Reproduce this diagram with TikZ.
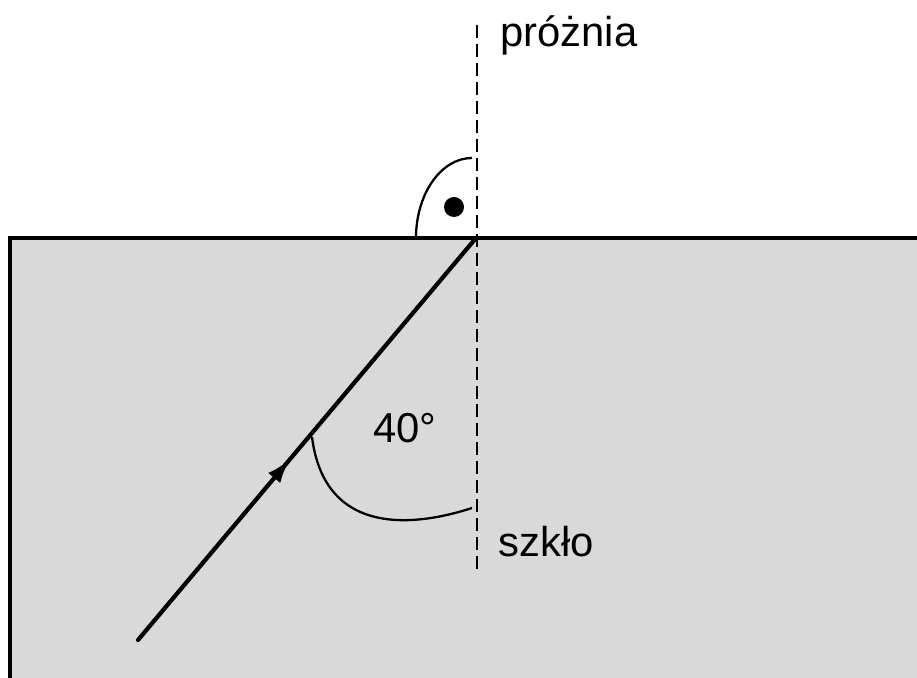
\documentclass[tikz,border=0pt]{standalone}
\usepackage{fontspec}
\setmainfont{Liberation Sans}
\usetikzlibrary{arrows.meta,decorations.markings}

\begin{document}
\begin{tikzpicture}[
    x=0.02cm, y=-0.02cm,
    glassBox/.style={fill=black!15, draw=black, line width=2.2pt},
    normalLine/.style={dash pattern=on 7.4pt off 3.4pt, line width=1.3pt},
    rayLine/.style={line width=2.4pt, line cap=round,
      postaction={decorate}, decoration={markings,
        mark=at position 0.45 with {\arrow{Latex[length=14pt,width=9pt]}}}},
    angleArc/.style={line width=1.3pt},
    labelText/.style={anchor=base west, inner sep=0pt, font=\fontsize{23.8}{28}\selectfont}
  ]
  \useasboundingbox (0,0) rectangle (917,678);

  % glass block
  \path[glassBox] (10,238) rectangle (930,700);

  % normal and incidence point
  \coordinate (normTop) at (477,25);
  \coordinate (normBot) at (477,572);
  \coordinate (hit) at (476,238);
  \draw[normalLine] (normTop) -- (normBot);

  % ray
  \coordinate (rayStart) at (138,640);
  \draw[rayLine] (rayStart) -- (hit);

  % right angle mark
  \coordinate (rightA) at (416,238);
  \coordinate (rightB) at (472,158);
  \draw[angleArc] (rightA) .. controls (416,194) and (441,158) .. (rightB);
  \fill (454,207) circle[radius=10];

  % 40 degree mark
  \coordinate (angA) at (312,437);
  \coordinate (angB) at (472,508);
  \draw[angleArc] (angA) .. controls (325,540) and (420,525) .. (angB);

  % labels
  \node[labelText] (vacuum) at (500,47) {próżnia};
  \node[labelText] (angle) at (373,443) {40°};
  \node[labelText] (glass) at (498,557) {szkło};

\end{tikzpicture}
\end{document}
